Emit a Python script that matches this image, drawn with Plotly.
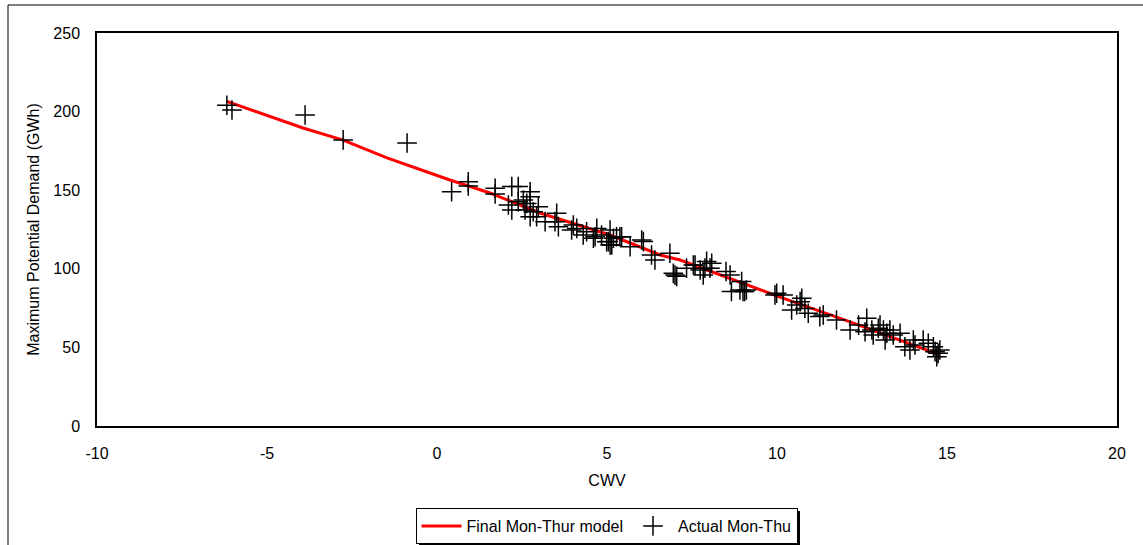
import plotly.graph_objects as go

# Model line (Final Mon-Thur model)
model_x = [-6.18, -3.94, -2.76, -1.47, -0.29, 0.38, 1.56, 3.03, 5.09, 6.56, 7.15, 9.79, 10.09, 12.15, 14.79]
model_y = [206.5, 189.6, 181.9, 170.5, 161.6, 156.5, 148.2, 135.5, 121.5, 108.8, 105.6, 84.6, 82.0, 66.2, 45.2]

# Actual Mon-Thu observations
actual_x = [-6.18, -6.03, -3.88, -2.76, -0.88, 0.43, 0.92, 0.92, 1.71, 1.71, 2.2, 2.39, 2.74,
            2.1, 2.2, 2.39, 2.54, 2.64, 2.74, 2.59, 2.83, 2.98, 2.74, 2.93, 3.18, 3.52, 3.47,
            3.57, 4.01, 3.96, 4.11, 4.4, 4.7, 4.65, 4.84, 5.09, 5.04, 5.14, 5.28, 5.43, 5.68,
            6.02, 6.31, 6.41, 6.85, 6.95, 7.05, 4.3, 4.6, 4.99, 5.19, 5.38, 5.09, 6.07,
            7.34, 7.59, 7.74, 7.88, 7.93, 7.83, 8.08, 8.5, 8.62, 8.96, 8.66, 9.0, 9.1, 9.94,
            7.0, 7.54, 8.03, 8.91, 9.05, 9.99, 10.18, 10.43, 10.58, 10.68, 10.73, 10.82,
            10.92, 11.26, 11.36, 11.75, 12.15, 12.4, 12.64, 12.59, 12.79, 12.83, 12.98, 13.03,
            13.13, 13.23, 13.18, 13.32, 13.42, 13.62, 13.76, 13.91, 14.01, 14.06, 14.3, 14.45,
            14.6, 14.65, 14.7, 14.79, 14.74]
actual_y = [204.0, 201.0, 197.8, 182.0, 180.0, 149.0, 155.4, 152.7, 151.2, 147.6, 152.3, 152.3, 149.0,
            140.6, 137.4, 142.7, 143.8, 141.6, 145.9, 137.4, 136.3, 139.5, 133.1, 133.1, 130.0, 135.3, 130.0,
            126.8, 127.9, 124.7, 125.7, 123.6, 125.7, 120.4, 121.5, 124.7, 117.3, 115.1, 120.4, 120.4, 114.0,
            118.3, 108.8, 105.6, 109.9, 97.1, 95.2, 121.5, 119.4, 117.2, 119.4, 120.4, 115.1, 117.3,
            100.4, 102.4, 99.2, 100.4, 104.7, 96.1, 103.5, 98.3, 96.1, 91.9, 85.6, 85.6, 86.5, 83.3,
            96.0, 102.4, 100.4, 86.5, 85.6, 84.4, 83.3, 73.8, 77.0, 79.1, 81.2, 74.8,
            71.7, 69.6, 70.6, 67.4, 61.1, 64.2, 68.5, 60.0, 61.1, 57.9, 62.2, 64.2,
            61.1, 59.0, 54.7, 61.1, 57.9, 59.0, 50.4, 48.3, 54.7, 51.5, 54.7, 52.6,
            50.4, 47.3, 44.1, 48.3, 46.2]

x_ticks = [-10, -5, 0, 5, 10, 15, 20]
x_tick_labels = ["-10", "-5", "0", "5", "10", "15", "20"]
y_ticks = [0, 50, 100, 150, 200, 250]

FONT = "Liberation Sans, Arial, sans-serif"
W, H = 1143, 545
L, R, T, B = 97, 1117, 33, 426  # plot-area pixel bounds


def px_x(p):
    return (p - L) / (R - L)


def px_y(p):
    return (B - p) / (B - T)


fig = go.Figure()
fig.add_trace(go.Scatter(
    x=model_x, y=model_y, mode="lines", name="Final Mon-Thur model",
    line=dict(color="#ff0000", width=3),
))
fig.add_trace(go.Scatter(
    x=actual_x, y=actual_y, mode="markers", name="Actual Mon-Thu",
    marker=dict(symbol="cross-thin", size=14, color="black",
                line=dict(color="black", width=1.5)),
))

# outer frame (left and top)
fig.add_shape(type="line", xref="paper", yref="paper",
              x0=px_x(8), x1=px_x(8), y0=px_y(550), y1=px_y(5),
              line=dict(color="black", width=1))
fig.add_shape(type="line", xref="paper", yref="paper",
              x0=px_x(8), x1=px_x(1150), y0=px_y(5), y1=px_y(5),
              line=dict(color="black", width=1))
# legend drop shadow
fig.add_shape(type="rect", xref="paper", yref="paper",
              x0=px_x(419), x1=px_x(800), y0=px_y(550), y1=px_y(511),
              line=dict(width=0), fillcolor="black", layer="above")

fig.update_layout(
    width=W, height=H,
    margin=dict(l=L, r=W - R, t=T, b=H - B),
    paper_bgcolor="white", plot_bgcolor="white",
    font=dict(family=FONT, size=16, color="black"),
    showlegend=True,
    legend=dict(orientation="h", xref="container", yref="container",
                x=606.5 / W, xanchor="center",
                y=1 - 508 / H, yanchor="top",
                bgcolor="white", bordercolor="black", borderwidth=1,
                font=dict(family=FONT, size=16), itemwidth=40,
                tracegroupgap=0),
    xaxis=dict(range=[-10, 20], tickvals=x_ticks, ticktext=x_tick_labels,
               showgrid=False, zeroline=False,
               showline=True, linecolor="black", linewidth=1.5, mirror=True,
               ticks="", ticklabelstandoff=12,
               title=dict(text="CWV", standoff=14, font=dict(size=16))),
    yaxis=dict(range=[0, 250], tickvals=y_ticks, showgrid=False, zeroline=False,
               showline=True, linecolor="black", linewidth=1.5, mirror=True,
               ticks="", ticklabelstandoff=12,
               title=dict(text="Maximum Potential Demand (GWh)", standoff=10, font=dict(size=16))),
)

fig.write_html("out.html", config={"displayModeBar": False},
               post_script="document.body.style.margin='0px';")
